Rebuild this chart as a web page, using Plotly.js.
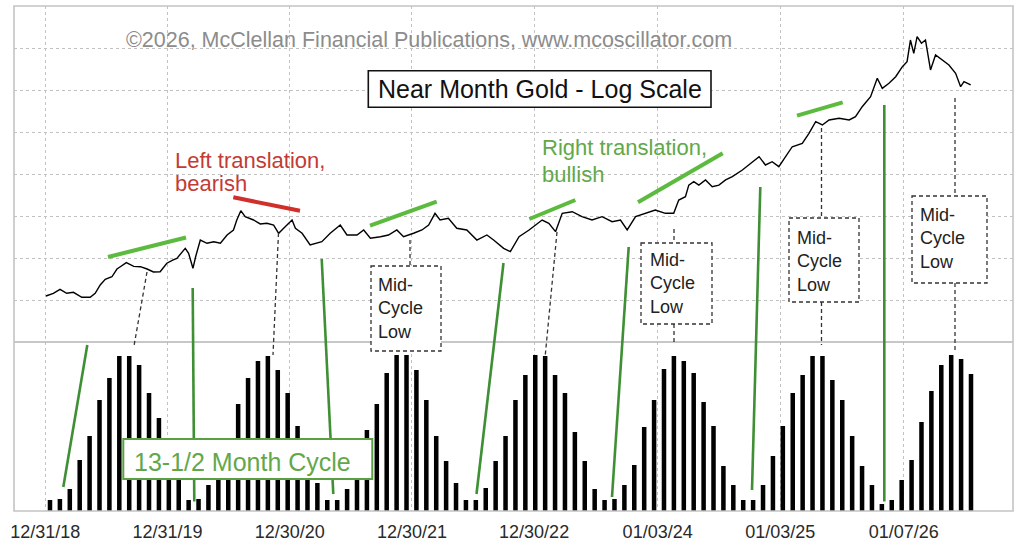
<!DOCTYPE html>
<html><head><meta charset="utf-8">
<script src="https://cdn.plot.ly/plotly-3.0.1.min.js"></script>
<style>html,body{margin:0;padding:0;background:#fff;}#chart{width:1024px;height:547px;}</style>
</head><body><div id="chart"></div>
<script>
// ---------------- DATA ----------------
const priceDates = ['2019-01-02','2019-01-24','2019-02-13','2019-03-05','2019-03-25','2019-04-19','2019-05-14','2019-05-29','2019-06-13','2019-06-28',
'2019-07-18','2019-08-02','2019-08-12','2019-08-30','2019-09-21','2019-10-11','2019-10-31','2019-11-19','2019-12-09','2019-12-29',
'2020-01-17','2020-01-28','2020-02-22','2020-03-03','2020-03-16','2020-03-24','2020-04-07','2020-04-27','2020-05-17','2020-06-06',
'2020-06-26','2020-07-15','2020-07-25','2020-08-06','2020-08-19','2020-09-13','2020-10-03','2020-10-23','2020-11-12','2020-11-27',
'2020-12-12','2021-01-06','2021-01-16','2021-02-05','2021-03-01','2021-03-21','2021-04-05','2021-04-30','2021-05-30','2021-06-19',
'2021-07-19','2021-08-08','2021-08-28','2021-09-27','2021-10-21','2021-11-15','2021-12-05','2022-01-04','2022-01-29','2022-02-18',
'2022-03-09','2022-03-24','2022-04-18','2022-05-13','2022-06-12','2022-07-12','2022-08-11','2022-08-31','2022-09-30','2022-10-20',
'2022-11-15','2022-12-15','2023-01-23','2023-02-12','2023-03-04','2023-03-24','2023-04-23','2023-05-22','2023-06-21','2023-07-21',
'2023-08-20','2023-09-14','2023-10-04','2023-10-29','2023-11-27','2023-12-27','2024-01-26','2024-02-20','2024-03-06','2024-03-26',
'2024-04-05','2024-04-20','2024-05-05','2024-05-25','2024-06-14','2024-07-04','2024-07-24','2024-08-13','2024-09-12','2024-10-12',
'2024-11-01','2024-11-20','2024-12-10','2024-12-30','2025-01-19','2025-02-08','2025-03-10','2025-03-30','2025-04-19','2025-05-09',
'2025-05-29','2025-06-28','2025-07-28','2025-08-16','2025-09-05','2025-09-30','2025-10-20','2025-11-04','2025-11-24','2025-12-14',
'2026-01-03','2026-01-17','2026-01-27','2026-02-06','2026-02-16','2026-03-01','2026-03-13','2026-03-28','2026-04-12','2026-05-02',
'2026-05-22','2026-06-11','2026-06-26','2026-07-06','2026-07-26'];
const goldPrices = [1287,1306,1335,1306,1313,1278,1278,1306,1367,1410,
1430,1492,1511,1545,1514,1511,1492,1468,1470,1540,
1568,1582,1671,1626,1498,1596,1749,1718,1733,1718,
1798,1848,1952,2054,1988,1952,1910,1917,1899,1815,
1865,1952,1865,1815,1702,1718,1733,1815,1899,1798,
1798,1848,1766,1781,1798,1848,1781,1815,1848,1899,
2025,1952,1970,1865,1848,1749,1798,1749,1671,1641,
1781,1848,1952,1917,1831,2025,2043,1988,1952,1988,
1934,1952,1848,1988,2025,2062,2025,2025,2178,2218,
2364,2408,2364,2431,2343,2364,2431,2475,2568,2687,
2762,2639,2687,2615,2762,2917,2972,3140,3346,3286,
3378,3409,3378,3439,3633,3837,4245,4018,4130,4282,
4524,4649,5236,4868,5333,5144,5236,4443,4823,4692,
4565,4364,4054,4167,4092];

const cycleStart = '2019-01-14';
const cycleStepDays = 29.58;
const cycleValues = [11,12,22,51,75,111,133,155,155,146,118,93,66,40,
11,12,26,43,69,107,133,150,155,141,118,85,56,28,
11,11,22,31,81,107,138,156,156,141,111,75,50,28,
11,11,23,50,75,111,136,156,155,136,118,79,50,22,
11,12,26,46,84,111,142,155,150,138,109,85,45,26,
11,11,26,55,85,118,136,155,155,131,111,75,45,26,
7,11,31,51,89,120,146,156,152,137];

const tickDates = ['2018-12-31','2019-12-31','2020-12-30','2021-12-30','2022-12-30','2024-01-03','2025-01-03','2026-01-07'];
const tickLabels = ['12/31/18','12/31/19','12/30/20','12/30/21','12/30/22','01/03/24','01/03/25','01/07/26'];

// ---------------- LAYOUT HELPERS ----------------
const W=1024,H=547,ML=14,MR=11,MT=6,MB=36;
const PW=W-ML-MR, PH=H-MT-MB;
const px = x => (x-ML)/PW;
const py = y => (H-MB-y)/PH;
const DAY = 86400000;
const split = py(342);
const FONT = 'Liberation Sans, Arial, sans-serif';

const TREND_GREEN = '#5cba3f';
const CYCLE_GREEN = '#3f8f35';
const TEXT_GREEN = '#62a84a';
const BOX_GREEN = '#58a042';
const RED_TXT = '#c23b35';
const RED_LINE = '#d0302c';

function seg(x0,y0,x1,y1,color,width,dash){
  return {type:'line',xref:'paper',yref:'paper',x0:px(x0),y0:py(y0),x1:px(x1),y1:py(y1),
    line:{color:color,width:width,dash:dash||'solid'},layer:'above'};
}
function box(x0,y0,x1,y1,color,width,dash){
  return {type:'rect',xref:'paper',yref:'paper',x0:px(x0),y0:py(y0),x1:px(x1),y1:py(y1),
    line:{color:color,width:width,dash:dash||'solid'},fillcolor:'#ffffff',layer:'above'};
}
function txt(x,y,text,size,color,xanchor){
  return {xref:'paper',yref:'paper',x:px(x),y:py(y),text:text,showarrow:false,
    xanchor:xanchor||'center',yanchor:'middle',align:'left',
    font:{family:FONT,size:size,color:color}};
}
const DASH = '4px,3px';

const shapes = [
  {type:'line',xref:'paper',yref:'paper',x0:0,x1:1,y0:split,y1:split,line:{color:'#b4b4b4',width:1.3},layer:'above'},
  seg(108,257,186,237.5,TREND_GREEN,4),
  seg(370,225.7,436.7,201.7,TREND_GREEN,4),
  seg(529.3,219,575.3,200,TREND_GREEN,4),
  seg(638,202.3,722.7,153.3,TREND_GREEN,4),
  seg(797,115.7,842.7,102.3,TREND_GREEN,4),
  seg(233.3,197.3,300,210.7,RED_LINE,4),
  seg(87.3,345,63.3,487,CYCLE_GREEN,2.6),
  seg(192.7,288,194.3,501.5,CYCLE_GREEN,2.6),
  seg(321.7,259,333.3,494,CYCLE_GREEN,2.6),
  seg(503.5,263,476.5,494,CYCLE_GREEN,2.6),
  seg(628.7,247,612,497,CYCLE_GREEN,2.6),
  seg(760.3,187,752,490,CYCLE_GREEN,2.6),
  seg(884.3,105,884.3,501.5,CYCLE_GREEN,2.6),
  seg(147,272,134,346,'#333',1.3,DASH),
  seg(278.5,233,273,355,'#333',1.3,DASH),
  seg(410,240,410,266,'#333',1.3,DASH),
  seg(557,232,545,358,'#333',1.3,DASH),
  seg(674,229,674,243,'#333',1.3,DASH),
  seg(674,324,674,345,'#333',1.3,DASH),
  seg(821.5,128,821.5,218,'#333',1.3,DASH),
  seg(821.5,302,821.5,345,'#333',1.3,DASH),
  seg(955,98,955,196,'#333',1.3,DASH),
  seg(955,283,955,352,'#333',1.3,DASH),
  box(371,266,441,351,'#333',1.3,DASH),
  box(641,243,712,324,'#333',1.3,DASH),
  box(789,218,859,302,'#333',1.3,DASH),
  box(912,196,987,283,'#333',1.3,DASH),
  box(368.3,70.7,711,107.3,'#111',1.6),
  box(123.3,439,372.3,479,BOX_GREEN,2),
  {type:'rect',xref:'paper',yref:'paper',x0:0,x1:1,y0:0,y1:1,line:{color:'#c4c4c4',width:1.6},layer:'above'}
];

const annotations = [
  txt(428.5,40,'©2026, McClellan Financial Publications, www.mcoscillator.com',21.5,'#8c8c8c'),
  txt(539.5,89,'Near Month Gold - Log Scale',25,'#111'),
  txt(173,160.5,'Left translation,',22,RED_TXT,'left'),
  txt(173,183.5,'bearish',22,RED_TXT,'left'),
  txt(540,147.5,'Right translation,',22,TEXT_GREEN,'left'),
  txt(540,174.5,'bullish',22,TEXT_GREEN,'left'),
  txt(376,308.5,'Mid-<br>Cycle<br>Low',18,'#222','left'),
  txt(648,283,'Mid-<br>Cycle<br>Low',18,'#222','left'),
  txt(795,261,'Mid-<br>Cycle<br>Low',18,'#222','left'),
  txt(918,239,'Mid-<br>Cycle<br>Low',18,'#222','left'),
  txt(132,461.7,'13-1/2 Month Cycle',25,TEXT_GREEN,'left')
];

const traces = [
  {type:'scatter',mode:'lines',x:priceDates,y:goldPrices,xaxis:'x',yaxis:'y',
   line:{color:'#000',width:1.4},hoverinfo:'skip'},
  {type:'bar',x0:cycleStart,dx:cycleStepDays*DAY,y:cycleValues,xaxis:'x',yaxis:'y2',
   width:13.5*DAY,marker:{color:'#000',line:{width:0}},hoverinfo:'skip'}
];

const layout = {
  width:W,height:H,margin:{l:ML,r:MR,t:MT,b:MB,pad:0},
  paper_bgcolor:'#fff',plot_bgcolor:'#fff',showlegend:false,
  font:{family:FONT},
  xaxis:{type:'date',range:['2018-09-28 12:00','2026-11-29 09:36'],anchor:'y2',
    tickmode:'array',tickvals:tickDates,ticktext:tickLabels,
    showgrid:true,gridcolor:'#c2c2c2',griddash:'dot',gridwidth:1,
    ticks:'outside',ticklen:4,tickcolor:'rgba(0,0,0,0)',
    tickfont:{family:FONT,size:18,color:'#2a2a2a'},
    zeroline:false,showline:false,fixedrange:true},
  yaxis:{type:'log',domain:[split,1],range:[3,3.8],dtick:0.1,tick0:0,
    showticklabels:false,ticks:'',showgrid:true,gridcolor:'#c2c2c2',griddash:'dot',gridwidth:1,
    zeroline:false,showline:false,fixedrange:true},
  yaxis2:{domain:[0,split],range:[0,169],showgrid:false,showticklabels:false,ticks:'',
    zeroline:false,showline:false,fixedrange:true},
  shapes:shapes,annotations:annotations
};

Plotly.newPlot('chart',traces,layout,{staticPlot:true,displayModeBar:false});
</script>
</body></html>
